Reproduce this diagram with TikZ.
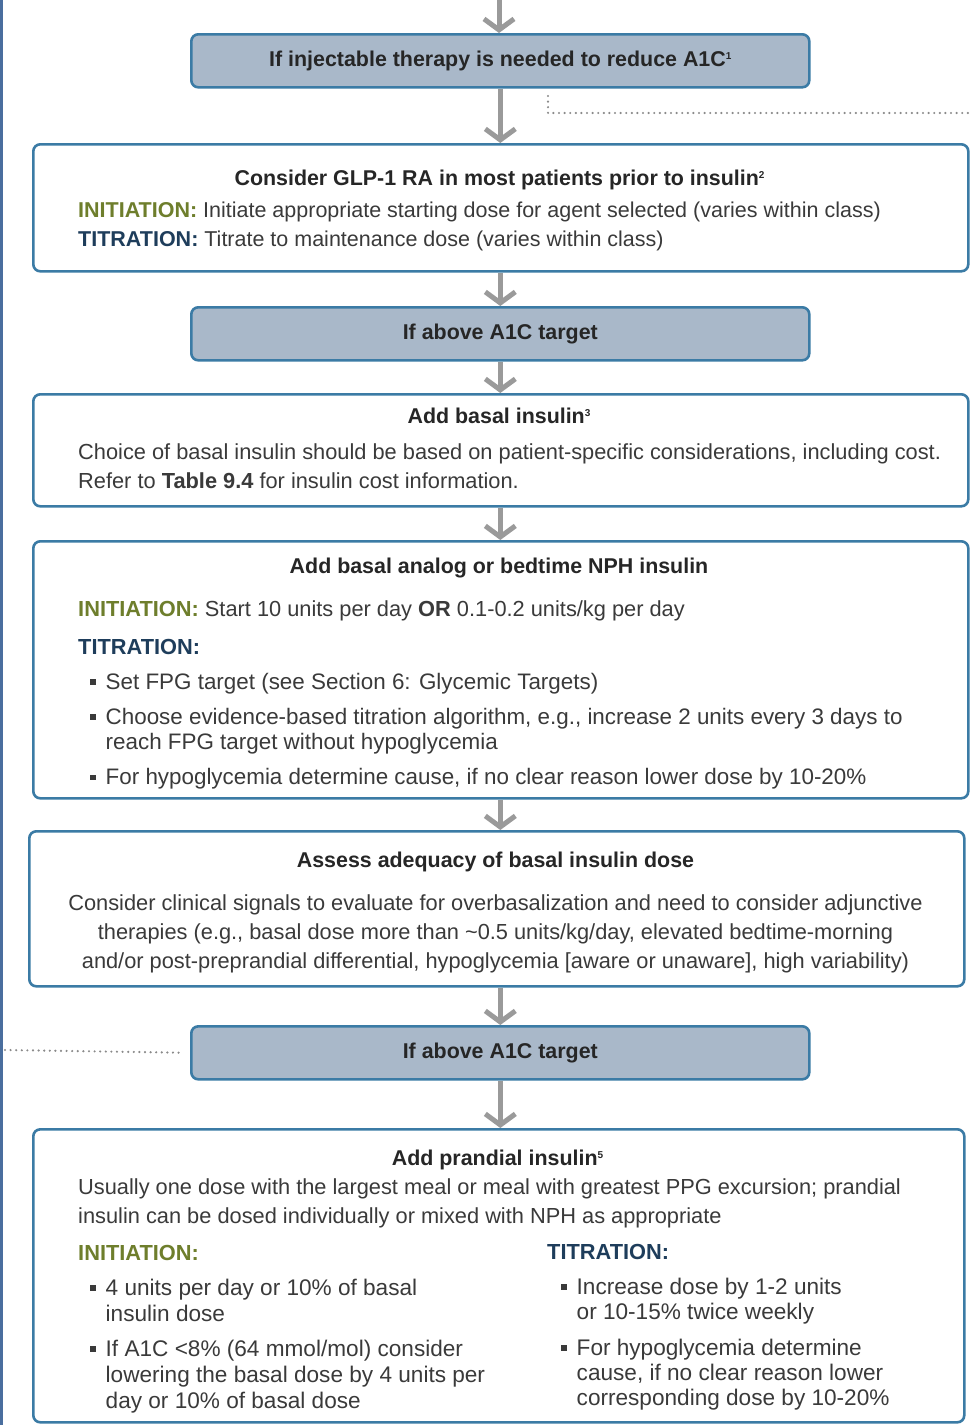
\documentclass[tikz,border=0pt]{standalone}
\usepackage{fontspec}
\setmainfont{Liberation Sans}
\usetikzlibrary{positioning,arrows.meta}
\definecolor{ADAblue}{HTML}{3B7BA5}
\definecolor{ADAgate}{HTML}{A9B8C9}
\definecolor{ADAarrow}{HTML}{9A9A9A}
\definecolor{ADAtext}{HTML}{3A3A3A}
\definecolor{ADAdark}{HTML}{262626}
\definecolor{ADAgreen}{HTML}{6E7E2C}
\definecolor{ADAnavy}{HTML}{1E3D5B}
\definecolor{ADAedge}{HTML}{4A6E9E}
\definecolor{ADAdots}{HTML}{8A8A8A}
\newcommand\sqbul{\raisebox{4.5pt}{\rule{5.5pt}{5.5pt}}}
\newcommand\fnote[1]{\raisebox{7pt}{\fontsize{10}{10}\selectfont#1}}
\newcommand\initlbl{{\bfseries\color{ADAgreen}INITIATION:}}
\newcommand\titrlbl{{\bfseries\color{ADAnavy}TITRATION:}}
\newcommand\lefttab[1]{\begin{tabular}[t]{@{}l@{}}#1\end{tabular}}
\newcommand\midtab[1]{\begin{tabular}[t]{@{}c@{}}#1\end{tabular}}
\newcommand\bultab[1]{\begin{tabular}[t]{@{}l@{\hspace{10pt}}l@{}}#1\end{tabular}}
\tikzset{
  stepbox/.style={draw=ADAblue, line width=2.6pt, rounded corners=7pt, fill=white, anchor=north west, inner sep=0pt},
  gatebox/.style={stepbox, fill=ADAgate, font=\fontsize{21.4}{25}\selectfont\bfseries, text=ADAdark, minimum width=618pt, minimum height=53pt},
  bodytxt/.style={inner sep=0pt, anchor=base west, font=\fontsize{21.8}{29}\selectfont, text=ADAtext},
  titletxt/.style={inner sep=0pt, anchor=base, font=\fontsize{21.4}{29}\selectfont\bfseries, text=ADAdark},
  bullettxt/.style={bodytxt, font=\fontsize{22.4}{25.5}\selectfont},
  flowarr/.style={draw=ADAarrow, line width=5pt, -{Straight Barb[length=11pt, width=30pt]}},
  dotline/.style={draw=ADAdots, line width=2.4pt, line cap=round, dash pattern=on 0pt off 5.6pt}
}

\begin{document}
\begin{tikzpicture}[x=1pt, y=-1pt]
  \useasboundingbox (0,0) rectangle (972,1425);
  \draw[ADAedge, line width=3pt] (1.5,0) -- (1.5,1425);

  % gates and step boxes
  \node[gatebox] (gate1) at (190,33) {If injectable therapy is needed to reduce A1C\fnote{1}};
  \node[stepbox, minimum width=935pt, minimum height=127pt] (glp) at (32,143) {};
  \node[gatebox] (gate2) at (190,306) {If above A1C target};
  \node[stepbox, minimum width=935pt, minimum height=112pt] (basal) at (32,393) {};
  \node[stepbox, minimum width=935pt, minimum height=257pt] (nph) at (32,540) {};
  \node[stepbox, minimum width=935pt, minimum height=155pt] (assess) at (28,830) {};
  \node[gatebox] (gate3) at (190,1025) {If above A1C target};
  \node[stepbox, minimum width=931pt, minimum height=293pt] (prandial) at (32,1128) {};

  % GLP-1 RA
  \node[titletxt] (glpT) at (499.5,185) {Consider GLP-1 RA in most patients prior to insulin\fnote{2}};
  \node[bodytxt, font=\fontsize{21.5}{29}\selectfont] (glpB) at (78,217) {\lefttab{\initlbl{} Initiate appropriate starting dose for agent selected (varies within class)\\
    \titrlbl{} Titrate to maintenance dose (varies within class)}};

  % basal insulin
  \node[titletxt] (basalT) at (499,423) {Add basal insulin\fnote{3}};
  \node[bodytxt] (basalB) at (78,459) {\lefttab{Choice of basal insulin should be based on patient-specific considerations, including cost.\\
    Refer to \textbf{Table 9.4} for insulin cost information.}};

  % basal analog / NPH
  \node[titletxt] (nphT) at (499,573) {Add basal analog or bedtime NPH insulin};
  \node[bodytxt] (nphI) at (78,616) {\initlbl{} Start 10 units per day \textbf{OR} 0.1-0.2 units/kg per day};
  \node[bodytxt] (nphL) at (78,654) {\titrlbl};
  \node[bullettxt] (nphB) at (90,689) {\bultab{\sqbul & Set FPG target (see Section 6: Glycemic Targets)\\[9.5pt]
    \sqbul & Choose evidence-based titration algorithm, e.g., increase 2 units every 3 days to\\
    & reach FPG target without hypoglycemia\\[9.5pt]
    \sqbul & For hypoglycemia determine cause, if no clear reason lower dose by 10-20\%}};

  % assess adequacy
  \node[titletxt] (assessT) at (495.5,867) {Assess adequacy of basal insulin dose};
  \node[bodytxt, anchor=base] (assessB) at (495.5,910) {\midtab{Consider clinical signals to evaluate for overbasalization and need to consider adjunctive\\
    therapies (e.g., basal dose more than \textasciitilde0.5 units/kg/day, elevated bedtime-morning\\
    and/or post-preprandial differential, hypoglycemia [aware or unaware], high variability)}};

  % prandial insulin
  \node[titletxt] (prandT) at (497.5,1165) {Add prandial insulin\fnote{5}};
  \node[bodytxt] (prandB) at (78,1194) {\lefttab{Usually one dose with the largest meal or meal with greatest PPG excursion; prandial\\
    insulin can be dosed individually or mixed with NPH as appropriate}};
  \node[bodytxt] (prandI) at (78,1260) {\initlbl};
  \node[bodytxt] (prandL) at (547,1259) {\titrlbl};
  \node[bullettxt, font=\fontsize{22.6}{26}\selectfont] (prandIB) at (90,1295) {\bultab{\sqbul & 4 units per day or 10\% of basal\\
    & insulin dose\\[9pt]
    \sqbul & If A1C <8\% (64 mmol/mol) consider\\
    & lowering the basal dose by 4 units per\\
    & day or 10\% of basal dose}};
  \node[bullettxt, font=\fontsize{22.6}{25}\selectfont] (prandLB) at (561,1294) {\bultab{\sqbul & Increase dose by 1-2 units\\
    & or 10-15\% twice weekly\\[11pt]
    \sqbul & For hypoglycemia determine\\
    & cause, if no clear reason lower\\
    & corresponding dose by 10-20\%}};

  % connectors
  \coordinate (entry) at (499,0);
  \draw[flowarr] (entry) -- (entry |- gate1.north);
  \draw[flowarr] (gate1.south) -- (gate1.south |- glp.north);
  \draw[flowarr] (gate1.south |- glp.south) -- (gate2.north);
  \draw[flowarr] (gate2.south) -- (gate2.south |- basal.north);
  \draw[flowarr] (gate2.south |- basal.south) -- (gate2.south |- nph.north);
  \draw[flowarr] (gate2.south |- nph.south) -- (gate2.south |- assess.north);
  \draw[flowarr] (gate2.south |- assess.south) -- (gate3.north);
  \draw[flowarr] (gate3.south) -- (gate3.south |- prandial.north);

  % dotted side links
  \coordinate (side1a) at (548,96);
  \coordinate (side1b) at (972,113);
  \draw[dotline] (side1a) |- (side1b);
  \coordinate (side2) at (5,1050);
  \draw[dotline, shorten >=7pt] (side2) -- (gate3.west);
\end{tikzpicture}
\end{document}
